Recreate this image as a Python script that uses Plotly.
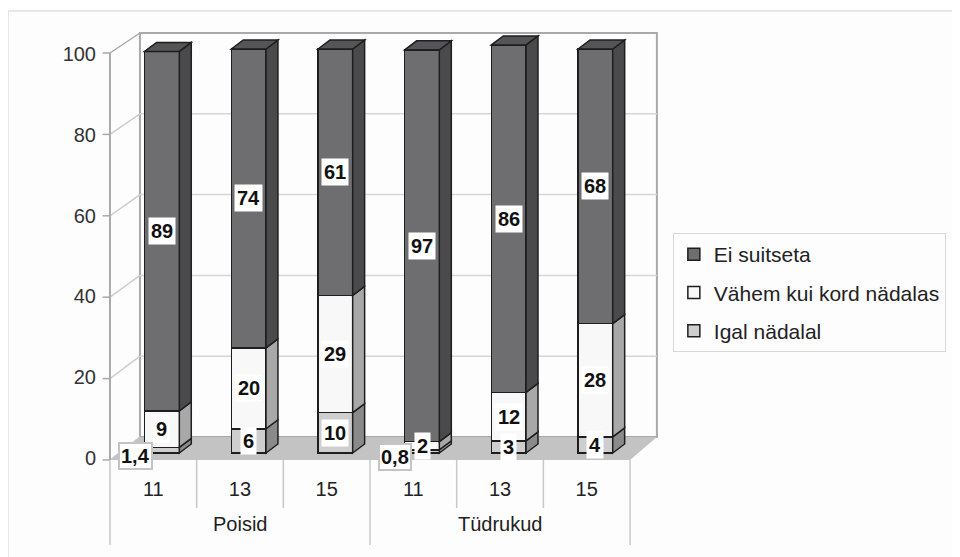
import plotly.graph_objects as go

# ---------------- data ----------------
groups = ["Poisid", "Tüdrukud"]
ages = ["11", "13", "15", "11", "13", "15"]
igal = [1.4, 6, 10, 0.8, 3, 4]          # Igal nädalal
vahem = [9, 20, 29, 2, 12, 28]          # Vähem kui kord nädalas
ei = [89, 74, 61, 97, 86, 68]           # Ei suitseta
y_ticks = [0, 20, 40, 60, 80, 100]

# ---------------- styles ----------------
FONT = "Liberation Sans, Arial, sans-serif"
EDGE = "#1e1e1e"
series = [
    ("Igal nädalal", igal, "#cecece", "#8a8a8a", 3),
    ("Vähem kui kord nädalas", vahem, "#f8f8f8", "#a8a8a8", 2),
    ("Ei suitseta", ei, "#6e6e71", "#4a4a4c", 1),
]
BAR_W, BAR_OFF = 0.4, -0.1        # bar width / offset (x units)
DX, DY = 0.138, 2.23              # bar depth (3-D look)
FRONT0, FRONT_K = -1.73, 1.0074   # front-axis mapping
BACK0 = 3.96
WALL_L, WALL_R = -0.154, 5.81

xs = list(range(len(ages)))
fig = go.Figure()
for name, vals, col, _, rank in series:
    fig.add_trace(go.Bar(
        x=xs, y=vals, name=name, legendgroup=name, legendrank=rank,
        width=BAR_W, offset=BAR_OFF,
        marker=dict(color=col, line=dict(color=EDGE, width=1.5)),
        hoverinfo="y+name",
    ))

shapes = []
# back wall, floor, gridlines (decor)
shapes.append(dict(type="rect", xref="x", yref="y", x0=WALL_L, x1=WALL_R,
                   y0=BACK0, y1=BACK0 + 100, line=dict(color="#a9a9a9", width=2),
                   fillcolor="rgba(0,0,0,0)", layer="below"))
for v in y_ticks[1:-1]:
    shapes.append(dict(type="line", xref="x", yref="y", x0=WALL_L, x1=WALL_R,
                       y0=BACK0 + v, y1=BACK0 + v,
                       line=dict(color="#d6d6d6", width=1.5), layer="below"))
for v in y_ticks:
    fy = FRONT0 + FRONT_K * v
    shapes.append(dict(type="line", xref="x", yref="y", x0=-0.5, x1=WALL_L,
                       y0=fy, y1=BACK0 + v,
                       line=dict(color="#a9a9a9" if v == 100 else "#cdcdcd", width=1.5),
                       layer="below"))
    shapes.append(dict(type="line", xref="x", yref="y", x0=-0.585, x1=-0.5,
                       y0=fy, y1=fy, line=dict(color="#a9a9a9", width=1.5), layer="below"))
shapes.append(dict(type="path", xref="x", yref="y",
                   path=f"M -0.5,{FRONT0} L 5.5,{FRONT0} L {WALL_R},{BACK0} L {WALL_L},{BACK0} Z",
                   fillcolor="#c3c3c3", line=dict(width=0), layer="below"))
shapes.append(dict(type="line", xref="x", yref="y", x0=-0.5, x1=-0.5,
                   y0=FRONT0, y1=FRONT0 + FRONT_K * 100,
                   line=dict(color="#a9a9a9", width=2), layer="below"))

# x-axis dividers
for xd in [0.5, 1.5, 3.5, 4.5]:
    shapes.append(dict(type="line", xref="x", yref="paper", x0=xd, x1=xd,
                       y0=0.0225, y1=-0.0854, line=dict(color="#c8c8c8", width=1.5)))
for xd in [-0.5, 2.5, 5.5]:
    shapes.append(dict(type="line", xref="x", yref="paper", x0=xd, x1=xd,
                       y0=0.0225, y1=-0.1685, line=dict(color="#c8c8c8", width=1.5)))

# 3-D side / top faces of the bars, derived from the data
base = [0.0] * len(xs)
annotations = []
for name, vals, col, side, _ in series:
    for i, v in enumerate(vals):
        y0 = base[i]
        y1 = y0 + v
        xr = i + BAR_OFF + BAR_W
        shapes.append(dict(type="path", xref="x", yref="y",
                           path=f"M {xr},{y0} L {xr+DX},{y0+DY} L {xr+DX},{y1+DY} L {xr},{y1} Z",
                           fillcolor=side, line=dict(color=EDGE, width=1.5), layer="above"))
        label = ("%g" % v).replace(".", ",")
        if v < 1.5:
            annotations.append(dict(x=i - 0.21, y=y0 + v / 2 - 1.45, xref="x", yref="y",
                                    text=f"<b>{label}</b>", showarrow=False,
                                    bgcolor="white", bordercolor="#c4c4c4", borderwidth=2,
                                    borderpad=1, font=dict(size=20, color="#111", family=FONT)))
        else:
            annotations.append(dict(x=i + BAR_OFF + BAR_W / 2, y=y0 + v / 2, xref="x", yref="y",
                                    text=f"<b>{label}</b>", showarrow=False,
                                    bgcolor="white", borderpad=2,
                                    font=dict(size=20, color="#111", family=FONT)))
        base[i] = y1
for i, top in enumerate(base):
    xl = i + BAR_OFF
    xr = xl + BAR_W
    shapes.append(dict(type="path", xref="x", yref="y",
                       path=f"M {xl},{top} L {xl+DX},{top+DY} L {xr+DX},{top+DY} L {xr},{top} Z",
                       fillcolor="#555557", line=dict(color=EDGE, width=1.5), layer="above"))

# group labels
for gi, g in enumerate(groups):
    annotations.append(dict(x=gi * 3 + 1, y=-0.1213, xref="x", yref="paper", text=g,
                            xanchor="center", yanchor="middle",
                            showarrow=False, font=dict(size=20, color="#222", family=FONT)))

# outer frame
shapes.append(dict(type="rect", xref="paper", yref="paper", x0=-0.1614, x1=1.52,
                   y0=-0.22, y1=1.0315, line=dict(color="#d2d2d2", width=1)))

fig.update_layout(
    width=952, height=549,
    barmode="stack",
    margin=dict(l=92, r=290, t=17, b=87),
    paper_bgcolor="#fdfdfe", plot_bgcolor="rgba(0,0,0,0)",
    font=dict(family=FONT, size=20, color="#222"),
    shapes=shapes, annotations=annotations,
    showlegend=True,
    legend=dict(x=1.005, y=0.5326, xanchor="left", yanchor="top",
                traceorder="grouped", tracegroupgap=8,
                bordercolor="#d8d8d8", borderwidth=1, bgcolor="rgba(0,0,0,0)",
                font=dict(size=21, color="#222", family=FONT), itemwidth=30),
    xaxis=dict(range=[-0.615, 5.961], tickvals=xs, ticktext=ages, showgrid=False,
               zeroline=False, showline=False, ticks="", ticklabelstandoff=5,
               tickfont=dict(size=20, color="#222")),
    yaxis=dict(range=[-4.21, 105.94], tickvals=y_ticks, showgrid=False, zeroline=False,
               showline=False, ticks="", ticklabelshift=5, ticklabelstandoff=3,
               tickfont=dict(size=20, color="#333")),
)

fig.write_html("out.html")
